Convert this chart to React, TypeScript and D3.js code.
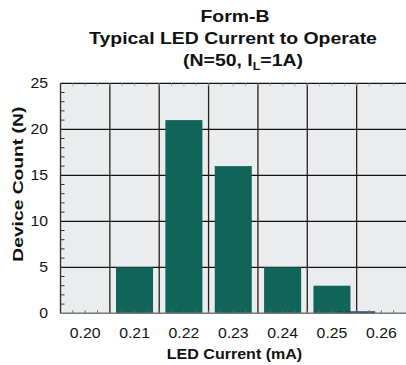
import React from "react";
import * as d3 from "d3";

const categories = [0.2, 0.21, 0.22, 0.23, 0.24, 0.25, 0.26];
const counts = [0, 5, 21, 16, 5, 3, 0];
const edgeBarX = [0.255];
const edgeBarValue = [0.15];
const yTicks = [0, 5, 10, 15, 20, 25];
const xTickLabels = ["0.20", "0.21", "0.22", "0.23", "0.24", "0.25", "0.26"];
const titleLines = ["Form-B", "Typical LED Current to Operate"];
const xLabel = "LED Current (mA)";
const yLabel = "Device Count (N)";

const W = 406;
const H = 365;
const L = 60.5;
const R = 406;
const T = 83.3;
const B = 313.3;
const SX = 1.13;
const FONT = "Helvetica, Arial, 'Liberation Sans', sans-serif";

export default function App() {
  const x = d3.scaleLinear().domain([0.195, 0.265]).range([L, R]);
  const y = d3.scaleLinear().domain([0, 25]).range([B, T]);
  const barW = x(0.2075) - x(0.2);
  const gridX = d3.range(0, 6).map((i) => 0.205 + i * 0.01);
  const minorY = d3.range(1, 25).filter((v) => v % 5 !== 0);
  const minorX = d3.range(0, 28).map((i) => 0.195 + i * 0.0025);

  const htext = (
    key: string | number,
    tx: number,
    ty: number,
    content: React.ReactNode,
    size: number,
    weight: string,
    anchor: string = "middle"
  ) => (
    <text
      key={key}
      transform={`translate(${tx},${ty}) scale(${SX},1)`}
      textAnchor={anchor as any}
      fontSize={size}
      fontWeight={weight}
      fontFamily={FONT}
      fill="#111"
    >
      {content}
    </text>
  );

  return (
    <svg width={W} height={H} style={{ position: "absolute", left: 0, top: 0 }}>
      <rect x={0} y={0} width={W} height={H} fill="#fff" />
      <rect x={L} y={T} width={R - L} height={B - T} fill="#ebecee" />
      {/* horizontal grid */}
      {yTicks.slice(1).map((v) => (
        <line key={"hg" + v} x1={L} x2={R} y1={y(v)} y2={y(v)} stroke="#111" strokeWidth={1.3} />
      ))}
      {/* vertical grid */}
      {gridX.map((v) => (
        <line key={"vg" + v} x1={x(v)} x2={x(v)} y1={T} y2={B} stroke="#222" strokeWidth={1.3} />
      ))}
      {/* top minor ticks */}
      {minorX.map((v, i) => (
        <line key={"tm" + i} x1={x(v)} x2={x(v)} y1={T} y2={T + 3} stroke="#999" strokeWidth={0.8} />
      ))}
      {/* bars */}
      {categories.map((c, i) =>
        counts[i] > 0 ? (
          <rect
            key={"b" + c}
            x={x(c) - barW / 2}
            y={y(counts[i])}
            width={barW}
            height={B - y(counts[i])}
            fill="#10645a"
          />
        ) : null
      )}
      {edgeBarX.map((c, i) => (
        <rect
          key={"e" + i}
          x={x(c) - barW / 2}
          y={y(edgeBarValue[i]) - 0.6}
          width={barW}
          height={B - y(edgeBarValue[i]) + 0.6}
          fill="#1c3a50"
        />
      ))}
      {/* left minor ticks */}
      {minorY.map((v) => (
        <line key={"lm" + v} x1={L} x2={L + 4} y1={y(v)} y2={y(v)} stroke="#333" strokeWidth={1} />
      ))}
      {/* bottom minor ticks */}
      {minorX.map((v, i) => (
        <line key={"bm" + i} x1={x(v)} x2={x(v)} y1={B} y2={B - 3} stroke="#666" strokeWidth={1} />
      ))}
      {/* axes */}
      <line x1={L} x2={L} y1={T} y2={B} stroke="#333" strokeWidth={1.4} />
      <line x1={L} x2={R} y1={B} y2={B} stroke="#777" strokeWidth={1.6} />
      {/* y tick labels */}
      {yTicks.map((v) => htext("yt" + v, 48, y(v) + 5, String(v), 14, "normal", "end"))}
      {/* x tick labels */}
      {categories.map((c, i) => htext("xt" + i, x(c), 337.7, xTickLabels[i], 14, "normal"))}
      {/* x label */}
      {htext("xl", 234.5, 359, xLabel, 14.2, "bold")}
      {/* y label */}
      <text
        transform={`translate(23,${(106.7 + 261.7) / 2}) rotate(-90)`}
        textAnchor="middle"
        fontSize={14}
        fontWeight="bold"
        fontFamily={FONT}
        fill="#111"
        textLength={155}
        lengthAdjust="spacingAndGlyphs"
      >
        {yLabel}
      </text>
      {/* title */}
      {htext("t1", 235, 22.3, titleLines[0], 17.2, "bold")}
      {htext("t2", 233, 44.3, titleLines[1], 17.2, "bold")}
      {htext(
        "t3",
        243,
        66,
        <>
          {"(N=50, I"}
          <tspan fontSize={11} dy={4}>L</tspan>
          <tspan dy={-4}>{"=1A)"}</tspan>
        </>,
        17.2,
        "bold"
      )}
    </svg>
  );
}
